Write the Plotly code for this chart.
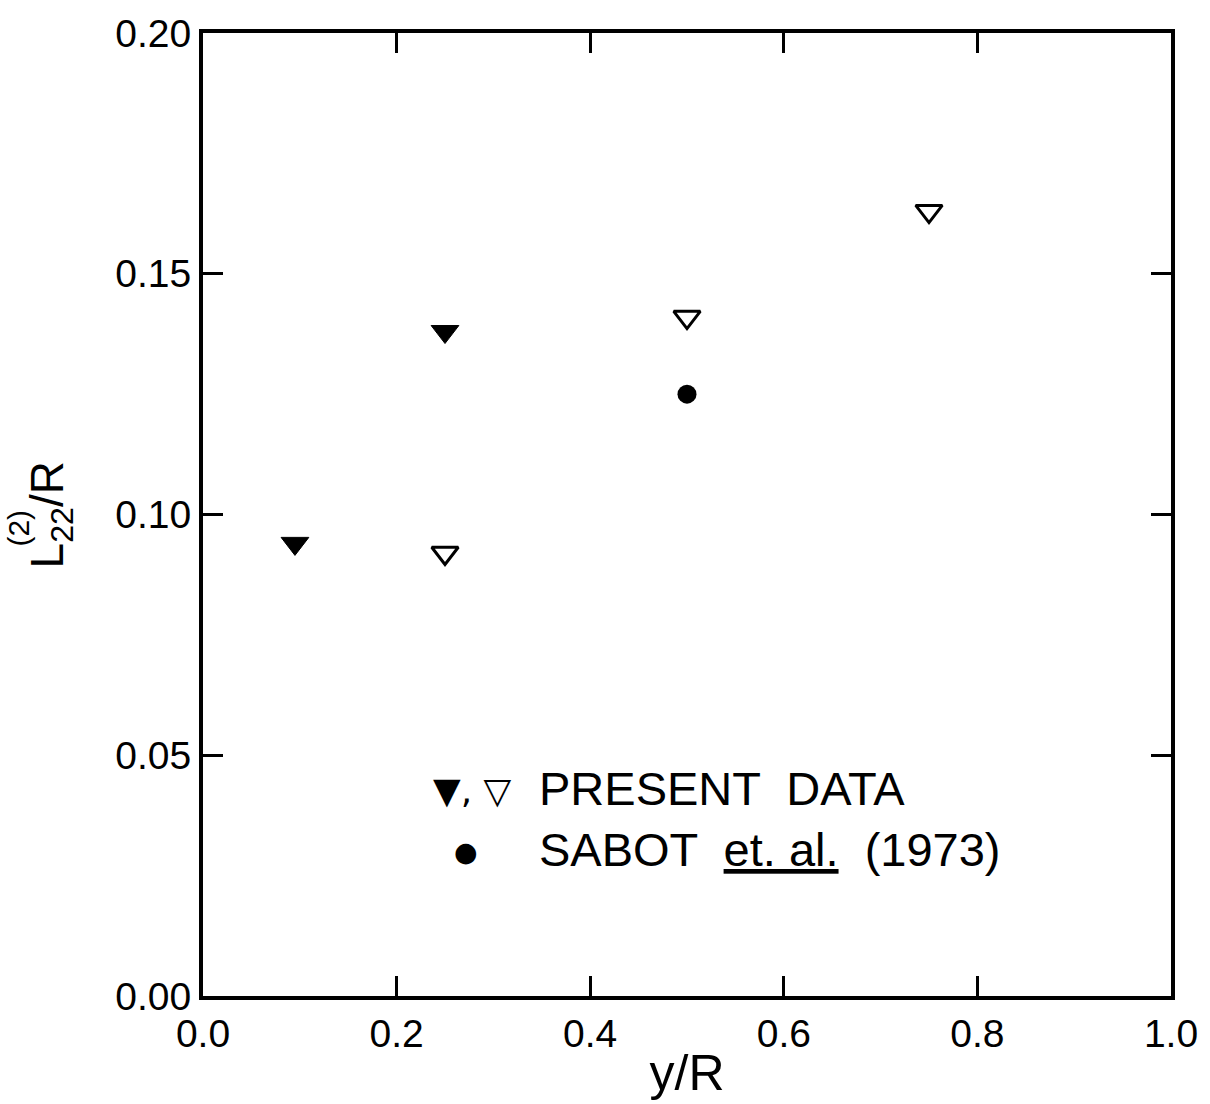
import plotly.graph_objects as go

# Data
filled_x = [0.095, 0.25]
filled_y = [0.094, 0.138]
open_x = [0.25, 0.50, 0.75]
open_y = [0.092, 0.141, 0.163]
sabot_x = [0.50]
sabot_y = [0.125]

x_ticks = [0.0, 0.2, 0.4, 0.6, 0.8, 1.0]
x_ticklabels = ["0.0", "0.2", "0.4", "0.6", "0.8", "1.0"]
y_ticks = [0.00, 0.05, 0.10, 0.15, 0.20]
y_ticklabels = ["0.00", "0.05", "0.10", "0.15", "0.20"]

FONT = "Liberation Sans"

fig = go.Figure()
fig.add_trace(go.Scatter(x=filled_x, y=filled_y, mode="markers",
                         marker=dict(symbol="triangle-down", size=24, color="black",
                                     line=dict(color="black", width=1)),
                         showlegend=False))
fig.add_trace(go.Scatter(x=open_x, y=open_y, mode="markers",
                         marker=dict(symbol="triangle-down-open", size=23, color="black",
                                     line=dict(color="black", width=3)),
                         showlegend=False))
fig.add_trace(go.Scatter(x=sabot_x, y=sabot_y, mode="markers",
                         marker=dict(symbol="circle", size=19, color="black"),
                         showlegend=False))

L, R, T, B = 203, 1180, 25, 998
W, H = 1210, 1104

def px(xp):
    return (xp - L) / (R - L)

def py(yp):
    return (B - yp) / (B - T)

annos = [
    dict(x=px(433), y=py(790), text="▼, ▽", xanchor="left", yanchor="middle",
         font=dict(size=36, family="DejaVu Sans", color="black")),
    dict(x=px(540), y=py(788), text="PRESENT  DATA", xanchor="left", yanchor="middle",
         font=dict(size=47, family=FONT, color="black")),
    dict(x=px(468), y=py(852), text="●", xanchor="center", yanchor="middle",
         font=dict(size=27, family="DejaVu Sans", color="black")),
    dict(x=px(540), y=py(850), text="SABOT  <u>et. al.</u>  (1973)", xanchor="left",
         yanchor="middle", font=dict(size=47, family=FONT, color="black")),
    # y-axis title pieces
    dict(x=px(50), y=py(512), text="L<sub>22</sub>/R", textangle=-90, xanchor="center",
         yanchor="middle", font=dict(size=46, family=FONT, color="black")),
    dict(x=px(17), y=py(525), text="(2)", textangle=-90, xanchor="center",
         yanchor="middle", font=dict(size=30, family=FONT, color="black")),
]
for a in annos:
    a.update(xref="paper", yref="paper", showarrow=False)

fig.update_layout(
    width=W, height=H,
    margin=dict(l=L, r=W - R, t=T, b=H - B),
    paper_bgcolor="white", plot_bgcolor="white",
    font=dict(family=FONT, color="black", size=38),
    annotations=annos,
    xaxis=dict(range=[0, 1], tickvals=x_ticks, ticktext=x_ticklabels,
               ticks="inside", ticklen=20, tickwidth=3, tickcolor="black",
               showline=True, linewidth=4, linecolor="black", mirror="ticks",
               showgrid=False, zeroline=False,
               tickfont=dict(size=39, family=FONT),
               title=dict(text="y/R", font=dict(size=50, family=FONT), standoff=2)),
    yaxis=dict(range=[0, 0.2], tickvals=y_ticks, ticktext=y_ticklabels,
               ticks="inside", ticklen=20, tickwidth=3, tickcolor="black",
               showline=True, linewidth=4, linecolor="black", mirror="ticks",
               showgrid=False, zeroline=False,
               tickfont=dict(size=39, family=FONT)),
)

fig.write_html("out.html")
